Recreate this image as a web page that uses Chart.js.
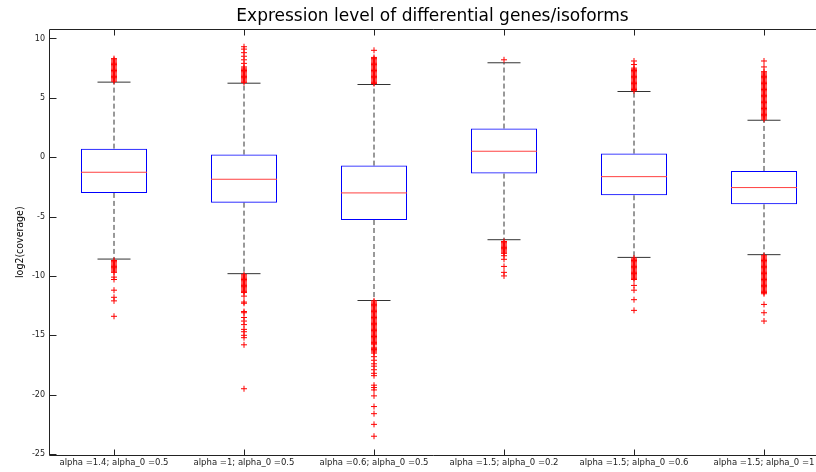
<!DOCTYPE html>
<html>
<head>
<meta charset="utf-8">
<script src="https://cdn.jsdelivr.net/npm/chart.js@4.4.1/dist/chart.umd.min.js"></script>
<style>
html, body { margin: 0; padding: 0; overflow: hidden; background: #fff; }
canvas { display: block; }
</style>
</head>
<body>
<canvas id="boxChart" width="816" height="472"></canvas>
<script>
var categories = ["alpha =1.4; alpha_0 =0.5", "alpha =1; alpha_0 =0.5", "alpha =0.6; alpha_0 =0.5",
                  "alpha =1.5; alpha_0 =0.2", "alpha =1.5; alpha_0 =0.6", "alpha =1.5; alpha_0 =1"];
var lowerWhisker = [-8.58, -9.81, -12.07, -6.95, -8.44, -8.21];
var q1           = [-3.01, -3.83, -5.29, -1.38, -3.21, -3.97];
var median       = [-1.27, -1.86, -3.01,  0.50, -1.64, -2.56];
var q3           = [ 0.72,  0.22, -0.71,  2.41,  0.30, -1.16];
var upperWhisker = [ 6.32,  6.23,  6.12,  7.95,  5.53,  3.11];
var yTicks = [-25, -20, -15, -10, -5, 0, 5, 10];

// outliers, one list per box
var outliers = [
  [6.4,6.5,6.6,6.7,6.8,6.9,7.0,7.1,7.2,7.3,7.4,7.5,7.6,7.7,7.8,7.9,8.0,8.1,8.2,8.3,
   -8.7,-8.8,-8.9,-9.0,-9.1,-9.2,-9.3,-9.4,-9.5,-9.6,-9.7,-10.1,-10.3,-11.2,-11.8,-12.1,-13.4],
  [6.3,6.4,6.5,6.6,6.7,6.8,6.9,7.0,7.1,7.2,7.3,7.4,7.5,7.6,7.9,8.2,8.5,8.8,9.1,9.3,
   -9.9,-10.0,-10.1,-10.2,-10.3,-10.4,-10.5,-10.6,-10.7,-10.8,-10.9,-11.0,-11.1,-11.2,-11.3,-11.4,
   -11.7,-12.2,-12.3,-13.0,-13.1,-13.5,-13.8,-14.1,-14.5,-14.7,-15.0,-15.2,-15.8,-19.5],
  [6.2,6.3,6.4,6.5,6.6,6.7,6.8,6.9,7.0,7.1,7.2,7.3,7.4,7.5,7.6,7.7,7.8,7.9,8.0,8.1,8.2,8.3,8.4,9.0,
   -12.1,-12.2,-12.3,-12.4,-12.5,-12.6,-12.7,-12.8,-12.9,-13.0,-13.1,-13.2,-13.3,-13.4,-13.5,-13.6,
   -13.7,-13.8,-13.9,-14.0,-14.1,-14.2,-14.3,-14.4,-14.5,-14.6,-14.7,-14.8,-14.9,-15.0,-15.1,-15.2,
   -15.3,-15.4,-15.5,-15.6,-15.7,-15.8,-16.0,-16.1,-16.2,-16.3,-16.4,-16.5,-16.8,-17.1,-17.4,-17.6,
   -17.9,-18.2,-18.4,-19.2,-19.4,-19.6,-20.1,-21.0,-21.6,-22.5,-23.5],
  [8.2,
   -7.1,-7.2,-7.3,-7.4,-7.5,-7.6,-7.7,-7.8,-7.9,-8.0,-8.1,-8.3,-8.6,-9.2,-9.7,-10.0],
  [5.6,5.7,5.8,5.9,6.0,6.1,6.2,6.3,6.4,6.5,6.6,6.7,6.8,6.9,7.0,7.1,7.2,7.3,7.4,7.5,7.8,8.1,
   -8.5,-8.6,-8.7,-8.8,-8.9,-9.0,-9.1,-9.2,-9.3,-9.4,-9.5,-9.6,-9.7,-9.8,-9.9,-10.0,-10.1,-10.2,-10.3,
   -10.8,-11.2,-12.0,-12.9],
  [3.2,3.3,3.4,3.5,3.6,3.7,3.8,3.9,4.0,4.1,4.2,4.3,4.4,4.5,4.6,4.7,4.8,4.9,5.0,5.1,5.2,5.3,5.4,5.5,
   5.6,5.7,5.8,5.9,6.0,6.1,6.2,6.3,6.4,6.5,6.6,6.7,6.8,6.9,7.0,7.1,7.2,7.6,8.1,
   -8.3,-8.4,-8.5,-8.6,-8.7,-8.8,-8.9,-9.0,-9.1,-9.2,-9.3,-9.4,-9.5,-9.6,-9.7,-9.8,-9.9,-10.0,-10.1,
   -10.2,-10.3,-10.4,-10.5,-10.6,-10.7,-10.8,-10.9,-11.0,-11.1,-11.2,-11.3,-11.4,-11.5,-12.4,-13.1,-13.8]
];

var boxData = [], whiskerData = [], capData = [], medianData = [], outlierData = [];
categories.forEach(function(c, i) {
  var x = i + 1;
  boxData.push({x: x, y: [q1[i], q3[i]]});
  whiskerData.push({x: x, y: q3[i]}, {x: x, y: upperWhisker[i]}, {x: x, y: null},
                   {x: x, y: q1[i]}, {x: x, y: lowerWhisker[i]}, {x: x, y: null});
  capData.push({x: x, y: upperWhisker[i]}, {x: x, y: lowerWhisker[i]});
  medianData.push({x: x, y: median[i]});
  outliers[i].forEach(function(v) { outlierData.push({x: x, y: v}); });
});

// matlab style frame: axes box, ticks pointing inward (right side is cut off in the figure)
var frameTicks = {
  id: 'frameTicks',
  afterDraw: function(chart) {
    var ctx = chart.ctx, a = chart.chartArea, xs = chart.scales.x, ys = chart.scales.y;
    var l = Math.round(a.left) + 0.5, t = Math.round(a.top) + 0.5, b = Math.round(a.bottom) + 0.5;
    ctx.save();
    ctx.strokeStyle = '#222';
    ctx.lineWidth = 1;
    ctx.beginPath();
    ctx.moveTo(a.right + 2, t); ctx.lineTo(l, t); ctx.lineTo(l, b); ctx.lineTo(a.right + 2, b);
    xs.ticks.forEach(function(tk) {
      var px = Math.round(xs.getPixelForValue(tk.value)) + 0.5;
      ctx.moveTo(px, b); ctx.lineTo(px, b - 6);
      ctx.moveTo(px, t); ctx.lineTo(px, t + 6);
    });
    ys.ticks.forEach(function(tk) {
      var py = Math.round(ys.getPixelForValue(tk.value)) + 0.5;
      ctx.moveTo(l, py); ctx.lineTo(l + 7, py);
    });
    ctx.stroke();
    ctx.restore();
  }
};

function noPad(scale) {
  scale.paddingLeft = 0; scale.paddingRight = 0;
  scale.paddingTop = 0; scale.paddingBottom = 0;
}

new Chart(document.getElementById('boxChart'), {
  type: 'bar',
  data: {
    datasets: [
      { type: 'scatter', data: outlierData, pointStyle: 'cross', pointRadius: 3,
        pointBorderColor: '#ff0000', pointBorderWidth: 1, order: 0 },
      { type: 'scatter', data: medianData, pointStyle: 'line', pointRadius: 33,
        pointBorderColor: '#ff4040', pointBorderWidth: 1, order: 1 },
      { type: 'bar', data: boxData, borderColor: '#0000ff', borderWidth: 1,
        backgroundColor: 'rgba(0,0,0,0)', borderSkipped: false,
        barPercentage: 66 / 130, categoryPercentage: 1, order: 2 },
      { type: 'scatter', data: capData, pointStyle: 'line', pointRadius: 16.5,
        pointBorderColor: '#333', pointBorderWidth: 1, order: 3 },
      { type: 'line', data: whiskerData, borderColor: '#333', borderWidth: 1,
        borderDash: [5, 3], pointRadius: 0, spanGaps: false, order: 4 }
    ]
  },
  options: {
    responsive: false,
    animation: false,
    events: [],
    layout: { autoPadding: false, padding: 0 },
    plugins: {
      legend: { display: false },
      tooltip: { enabled: false },
      title: {
        display: true,
        fullSize: false,
        text: 'Expression level of differential genes/isoforms',
        color: '#000',
        font: { family: 'DejaVu Sans', size: 17, weight: 'normal' },
        padding: { top: 6, bottom: 3 }
      }
    },
    scales: {
      x: {
        type: 'linear',
        min: 0.5,
        max: 6.4,   // figure is cropped just before the right end of the axes
        offset: false,
        grid: { display: false, drawTicks: false },
        border: { display: false },
        afterBuildTicks: function(scale) {
          scale.ticks = categories.map(function(c, i) { return {value: i + 1}; });
        },
        afterFit: function(scale) { scale.height = 17; noPad(scale); },
        ticks: {
          autoSkip: false,
          maxRotation: 0,
          padding: 3,
          color: '#222',
          font: { family: 'DejaVu Sans', size: 8.5 },
          callback: function(v) { return categories[v - 1]; }
        }
      },
      y: {
        min: -25.08,
        max: 10.76,
        grid: { display: false, drawTicks: false },
        border: { display: false },
        afterBuildTicks: function(scale) {
          scale.ticks = yTicks.map(function(v) { return {value: v}; });
        },
        afterFit: function(scale) { scale.width = 49; noPad(scale); },
        ticks: {
          padding: 4,
          color: '#222',
          font: { family: 'DejaVu Sans', size: 8 },
          callback: function(v) { return String(v); }
        },
        title: {
          display: true,
          text: 'log2(coverage)',
          color: '#000',
          font: { family: "'Liberation Sans Narrow', 'DejaVu Sans Condensed', sans-serif", size: 10.5 },
          padding: { top: 14, bottom: 0 }
        }
      }
    }
  },
  plugins: [frameTicks]
});
</script>
</body>
</html>
